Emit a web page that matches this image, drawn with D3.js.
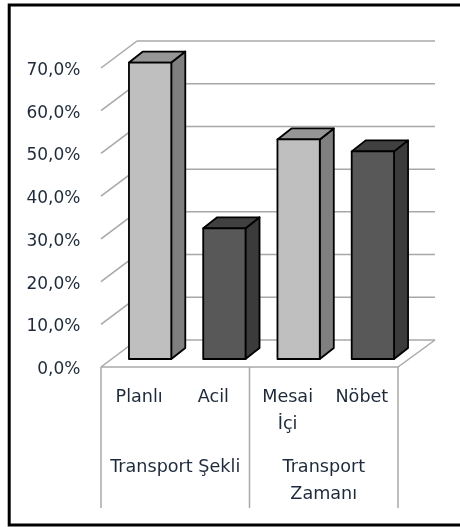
<!DOCTYPE html>
<html>
<head>
<meta charset="utf-8">
<style>
    html, body { margin: 0; padding: 0; background: #fff; }
    svg { display: block; }
    text { font-family: 'DejaVu Sans', sans-serif; fill: #1f2a3a; }
</style>
<script src="https://cdn.jsdelivr.net/npm/d3@7"></script>
</head>
<body>
<div class="chart"></div>
<script>
var categories = ['Planlı', 'Acil', 'Mesai İçi', 'Nöbet']
var values = [69.4, 30.6, 51.4, 48.6]
var groups = ['Transport Şekli', 'Transport Zamanı']
var groupSizes = [2, 2]
var yTicks = [0, 10, 20, 30, 40, 50, 60, 70]

var svgWidth = 460,
    svgHeight = 527,
    tickFontSize = 17,
    labelFontSize = 17.6,
    floorY = 367,
    left = 101,
    right = 398,
    depthX = 36,
    depthY = -27,
    barShiftX = 12,
    barShiftY = -8,
    barDepthX = 14,
    barDepthY = -11,
    gridColor = '#a8a8a8',
    // front, top, side
    lightBar = ['#bfbfbf', '#969696', '#7f7f7f'],
    darkBar = ['#595959', '#404040', '#3a3a3a']

var svg = d3.select('.chart').append('svg')
    .attr('width', svgWidth)
    .attr('height', svgHeight)

// картинка в оригинале немного размыта
svg.append('filter')
    .attr('id', 'soft')
    .attr('x', 0).attr('y', 0).attr('width', 1).attr('height', 1)
    .append('feGaussianBlur')
    .attr('stdDeviation', 0.45)

var root = svg.append('g').attr('filter', 'url(#soft)')

var y = d3.scaleLinear().domain([0, 70]).range([floorY, 68])
var x = d3.scaleBand().domain(categories).range([left, right]).paddingInner(0.43).paddingOuter(0.215)

root.append('rect')
    .attr('width', svgWidth).attr('height', svgHeight)
    .attr('fill', '#fff')

// рамка
root.append('rect')
    .attr('x', 9.2).attr('y', 5)
    .attr('width', 480).attr('height', 520)
    .attr('fill', '#fff').attr('stroke', '#000').attr('stroke-width', 3)

// сетка на задней стенке и диагонали
var grid = root.append('g')
    .attr('fill', 'none')
    .attr('stroke', gridColor)
    .attr('stroke-width', 1.5)

grid.selectAll('.back').data(yTicks).enter().append('line')
    .attr('class', 'back')
    .attr('x1', left + depthX).attr('x2', right + depthX + 1)
    .attr('y1', d => y(d) + depthY).attr('y2', d => y(d) + depthY)

grid.selectAll('.diag').data(yTicks).enter().append('line')
    .attr('class', 'diag')
    .attr('x1', left).attr('x2', left + depthX)
    .attr('y1', d => y(d)).attr('y2', d => y(d) + depthY)

// пол
grid.append('line')
    .attr('x1', right).attr('x2', right + depthX + 1)
    .attr('y1', floorY).attr('y2', floorY + depthY)

// бары
var bar = root.selectAll('.bar').data(values).enter().append('g')
    .attr('class', 'bar')
    .attr('stroke', '#000')
    .attr('stroke-width', 1.8)
    .attr('stroke-linejoin', 'round')

function barBox(d, i) {
    var x0 = x(categories[i]) + barShiftX
    return { x0: x0, x1: x0 + x.bandwidth(), top: y(d) + barShiftY, bottom: y(0) + barShiftY }
}
function palette(i) {
    return i % 2 === 0 ? lightBar : darkBar
}
function pts(list) {
    return list.map(p => p.join(',')).join(' ')
}

bar.append('polygon')
    .attr('fill', (d, i) => palette(i)[2])
    .attr('points', function (d, i) {
        var b = barBox(d, i)
        return pts([[b.x1, b.top], [b.x1 + barDepthX, b.top + barDepthY],
            [b.x1 + barDepthX, b.bottom + barDepthY], [b.x1, b.bottom]])
    })
bar.append('polygon')
    .attr('fill', (d, i) => palette(i)[1])
    .attr('points', function (d, i) {
        var b = barBox(d, i)
        return pts([[b.x0, b.top], [b.x0 + barDepthX, b.top + barDepthY],
            [b.x1 + barDepthX, b.top + barDepthY], [b.x1, b.top]])
    })
bar.append('rect')
    .attr('fill', (d, i) => palette(i)[0])
    .attr('x', (d, i) => barBox(d, i).x0)
    .attr('y', (d, i) => barBox(d, i).top)
    .attr('width', x.bandwidth())
    .attr('height', (d, i) => barBox(d, i).bottom - barBox(d, i).top)

// ось Y
var yAxis = d3.axisLeft(y)
    .tickValues(yTicks)
    .tickSize(0)
    .tickPadding(0)
    .tickFormat(d => d.toFixed(1).replace('.', ',') + '%')

var yGroup = root.append('g')
    .attr('transform', 'translate(80.5,1)')
    .call(yAxis)
yGroup.select('.domain').remove()
yGroup.selectAll('text').style('font-size', tickFontSize + 'px').style('font-family', null).attr('fill', null)

// нижняя таблица подписей
var axisBox = root.append('g')
    .attr('stroke', gridColor)
    .attr('stroke-width', 1.5)

var edges = [left]
groupSizes.reduce(function (sum, n) {
    sum += n
    edges.push(left + (right - left) * sum / categories.length)
    return sum
}, 0)

axisBox.append('line')
    .attr('x1', left).attr('x2', right + 1)
    .attr('y1', floorY).attr('y2', floorY)
axisBox.selectAll('.sep').data(edges).enter().append('line')
    .attr('class', 'sep')
    .attr('x1', d => d).attr('x2', d => d)
    .attr('y1', floorY).attr('y2', 508)

function multiline(sel, lines, cx, cy) {
    var t = sel.append('text')
        .attr('text-anchor', 'middle')
        .style('font-size', labelFontSize + 'px')
    lines.forEach(function (line, i) {
        t.append('tspan')
            .attr('x', cx)
            .attr('y', cy + i * 26.5)
            .text(line)
    })
}

var wrapped = { 'Mesai İçi': ['Mesai', 'İçi'], 'Transport Zamanı': ['Transport', 'Zamanı'] }

categories.forEach(function (c) {
    multiline(root, wrapped[c] || [c], x(c) + x.bandwidth() / 2 + 1, 402)
})
groups.forEach(function (g, i) {
    multiline(root, wrapped[g] || [g], (edges[i] + edges[i + 1]) / 2, 472)
})
</script>
</body>
</html>
